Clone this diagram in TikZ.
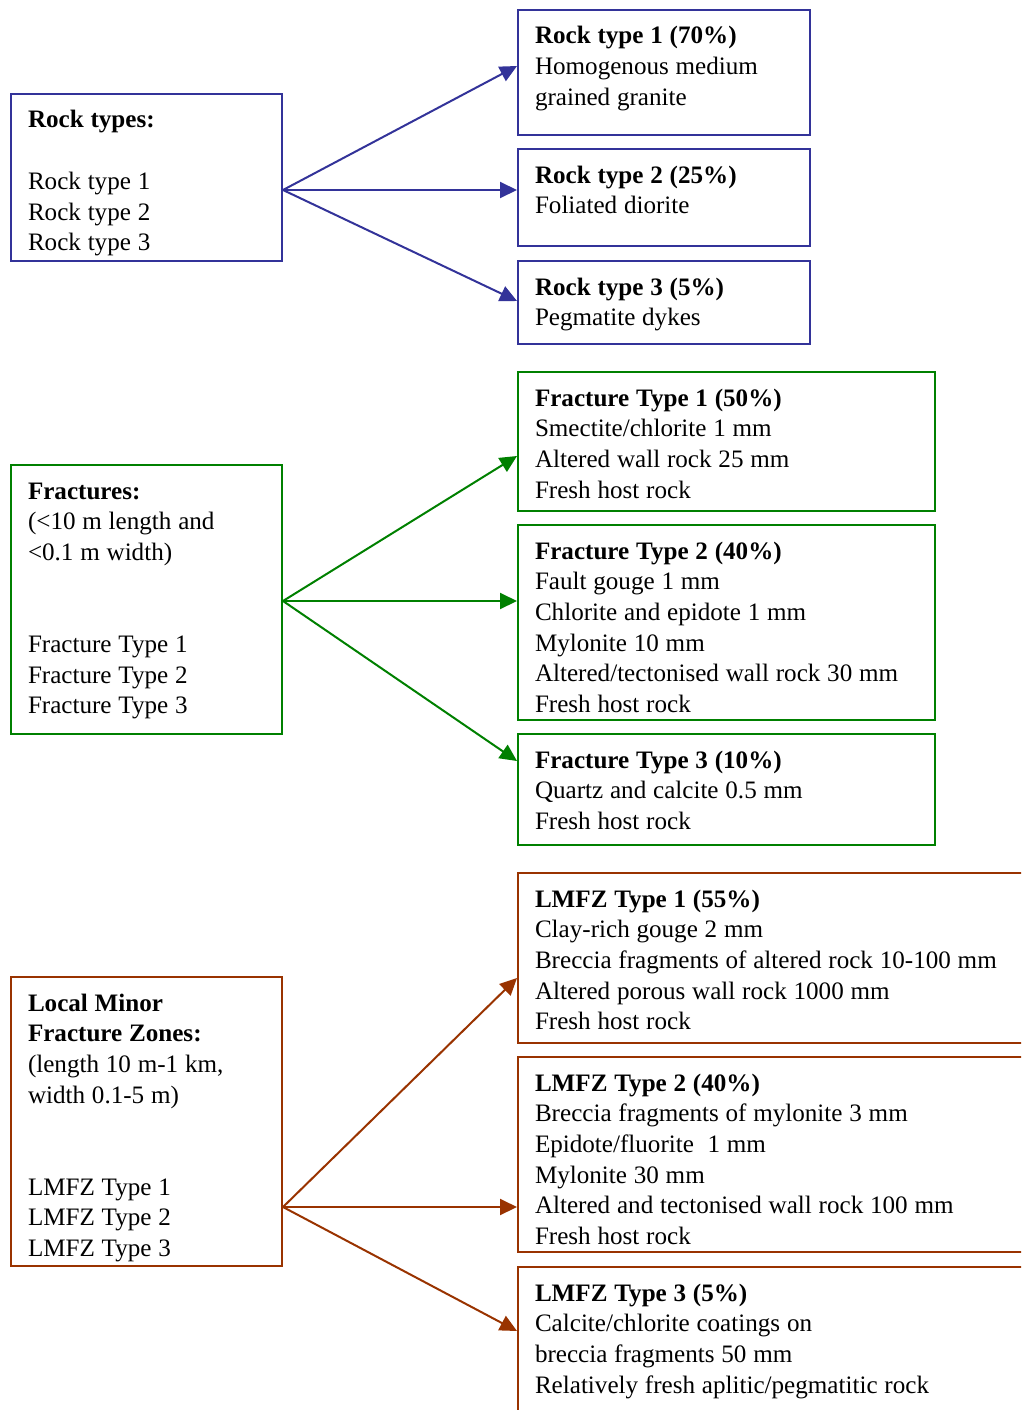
\documentclass[tikz,border=0pt]{standalone}
\usepackage{fontspec}
\setmainfont{Liberation Serif}
\usetikzlibrary{arrows.meta}

\definecolor{rockblue}{RGB}{51,51,153}
\definecolor{fracgreen}{RGB}{0,128,0}
\definecolor{zonebrown}{RGB}{153,51,0}

\tikzset{
  box/.style={draw, line width=2pt, anchor=north west, inner xsep=17pt, inner ysep=0pt,
              align=left, text height=34pt, font=\fontsize{25.1}{30.7}\selectfont,
              execute at begin node={\spaceskip=6.8pt plus 2pt minus 1pt\relax}},
  arr/.style={line width=2pt, -{Triangle[length=17pt,width=16pt]}},
  blue box/.style={box, rockblue, text=black},
  green box/.style={box, fracgreen, text=black},
  brown box/.style={box, zonebrown, text=black},
}

\begin{document}
\begin{tikzpicture}[x=1pt,y=-1pt]
\useasboundingbox (0,0) rectangle (1021,1410);
\clip (0,0) rectangle (1021,1410);

% --- rock types ---
\node[blue box, text width=237pt, text depth=133pt] (rt) at (10,93)
  {\textbf{Rock types:}\\ ~\\ Rock type 1\\ Rock type 2\\ Rock type 3};
\node[blue box, text width=258pt, text depth=91pt] (r1) at (517,9)
  {\textbf{Rock type 1 (70\%)}\\ Homogenous medium\\ grained granite};
\node[blue box, text width=258pt, text depth=63pt] (r2) at (517,148)
  {\textbf{Rock type 2 (25\%)}\\ Foliated diorite};
\node[blue box, text width=258pt, text depth=49pt] (r3) at (517,260)
  {\textbf{Rock type 3 (5\%)}\\ Pegmatite dykes};

\coordinate (rtout) at ([yshift=-12.5pt]rt.east);
\draw[arr, rockblue] (rtout) -- ([yshift=6.5pt]r1.west);
\draw[arr, rockblue] (rtout) -- (rtout -| r2.west);
\draw[arr, rockblue] (rtout) -- ([yshift=1.5pt]r3.west);

% --- fractures ---
\node[green box, text width=237pt, text depth=235pt] (fr) at (10,464)
  {\textbf{Fractures:}\\ (<10 m length and\\ <0.1 m width)\\ ~\\ ~\\
   Fracture Type 1\\ Fracture Type 2\\ Fracture Type 3};
\node[green box, text width=383pt, text depth=105pt] (f1) at (517,371)
  {\textbf{Fracture Type 1 (50\%)}\\ Smectite/chlorite 1 mm\\
   Altered wall rock 25 mm\\ Fresh host rock};
\node[green box, text width=383pt, text depth=161pt] (f2) at (517,524)
  {\textbf{Fracture Type 2 (40\%)}\\ Fault gouge 1 mm\\ Chlorite and epidote 1 mm\\
   Mylonite 10 mm\\ Altered/tectonised wall rock 30 mm\\ Fresh host rock};
\node[green box, text width=383pt, text depth=77pt] (f3) at (517,733)
  {\textbf{Fracture Type 3 (10\%)}\\ Quartz and calcite 0.5 mm\\ Fresh host rock};

\coordinate (frout) at ([yshift=-1.5pt]fr.east);
\draw[arr, fracgreen] (frout) -- ([yshift=-14.5pt]f1.west);
\draw[arr, fracgreen] (frout) -- (frout -| f2.west);
\draw[arr, fracgreen] (frout) -- ([yshift=28.5pt]f3.west);

% --- local minor fracture zones ---
\node[brown box, text width=237pt, text depth=255pt] (lm) at (10,976)
  {\textbf{Local Minor}\\ \textbf{Fracture Zones:}\\ (length 10 m-1 km,\\ width 0.1-5 m)\\ ~\\ ~\\
   LMFZ Type 1\\ LMFZ Type 2\\ LMFZ Type 3};
\node[brown box, text width=506pt, text depth=136pt] (l1) at (517,872)
  {\textbf{LMFZ Type 1 (55\%)}\\ Clay-rich gouge 2 mm\\
   Breccia fragments of altered rock 10-100 mm\\ Altered porous wall rock 1000 mm\\
   Fresh host rock};
\node[brown box, text width=506pt, text depth=161pt] (l2) at (517,1056)
  {\textbf{LMFZ Type 2 (40\%)}\\ Breccia fragments of mylonite 3 mm\\
   Epidote/fluorite\ \ 1 mm\\ Mylonite 30 mm\\ Altered and tectonised wall rock 100 mm\\
   Fresh host rock};
\node[brown box, text width=506pt, text depth=146pt] (l3) at (517,1266)
  {\textbf{LMFZ Type 3 (5\%)}\\ Calcite/chlorite coatings on\\
   breccia fragments 50 mm\\ Relatively fresh aplitic/pegmatitic rock};

\coordinate (lmout) at ([yshift=-85.5pt]lm.east);
\draw[arr, zonebrown] (lmout) -- ([yshift=-20pt]l1.west);
\draw[arr, zonebrown] (lmout) -- (lmout -| l2.west);
\draw[arr, zonebrown] (lmout) -- ([yshift=26pt]l3.west);
\end{tikzpicture}
\end{document}
